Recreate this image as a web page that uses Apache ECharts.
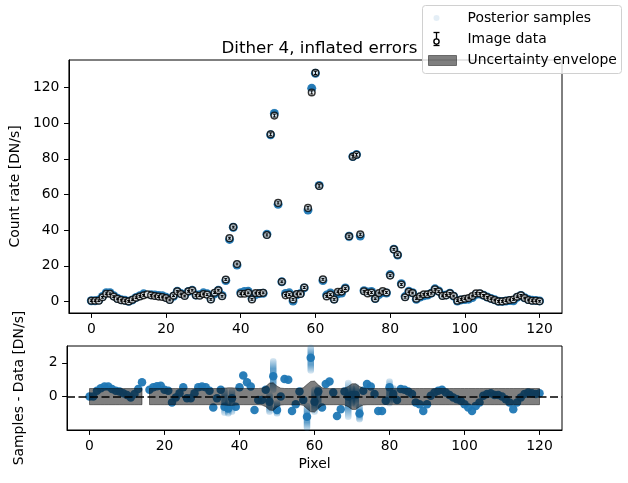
<!DOCTYPE html>
<html>
<head>
<meta charset="utf-8">
<script src="https://cdn.jsdelivr.net/npm/echarts@6/dist/echarts.min.js"></script>
<style>
html, body { margin: 0; padding: 0; background: #fff; }
#chart { width: 628px; height: 483px; }
</style>
</head>
<body>
<div id="chart"></div>
<script>
// count rate per pixel (pixel index = array index)
var counts = [
  0.4, 0.4, 0.4, 2.3, 4.3, 4.3, 2.7, 1.4, 0.7, 0.4,
  0.0, 0.9, 2.1, 2.8, 3.4, 4.0, 3.4, 3.0, 2.7, 2.5,
  1.9, 0.8, 3.2, 5.7, 4.2, 3.0, 5.7, 6.3, 3.4, 3.2,
  4.2, 3.8, 1.1, 4.9, 6.3, 2.9, 12.3, 35.5, 41.7, 21.0,
  4.3, 4.3, 4.8, 1.1, 4.7, 4.6, 4.8, 37.3, 93.8, 104.3,
  55.3, 11.0, 3.4, 3.8, 1.1, 4.2, 4.2, 7.8, 52.5, 117.3,
  128.3, 64.8, 12.4, 2.8, 3.8, 1.1, 5.4, 5.5, 7.2, 36.6,
  81.2, 82.3, 37.7, 5.7, 4.5, 5.0, 1.5, 4.7, 5.8, 5.0,
  14.5, 29.2, 26.2, 9.5, 2.3, 5.4, 4.7, 1.5, 2.9, 4.0,
  4.0, 4.6, 6.8, 5.5, 3.1, 3.4, 4.5, 3.0, 0.4, 1.1,
  1.5, 1.9, 3.0, 4.5, 4.5, 3.4, 2.3, 1.5, 0.8, 0.0,
  0.0, 0.4, 0.8, 1.1, 2.6, 3.4, 1.9, 0.8, 0.4, 0.4,
  0.1
];
// posterior samples minus data, typical value per pixel
var resid = [
  0.0, 0.0, 0.35, 0.5, 0.6, 0.6, 0.45, 0.35, 0.3, 0.2,
  0.1, -0.05, 0.15, 0.45, 0.85, null, 0.4, 0.55, 0.62, 0.65,
  0.4, 0.35, -0.35, -0.05, 0.2, 0.55, -0.1, -0.1, 0.2, 0.55,
  0.6, 0.55, 0.35, -0.65, -0.1, 0.4, -0.6, -0.7, -0.1, -0.6,
  0.55, 1.25, 0.85, 0.6, -0.8, -0.2, -0.2, 0.4, -0.3, 1.2,
  -0.8, 0.0, 1.05, 1.0, -0.85, -0.45, 0.3, -0.2, -1.2, 2.3,
  -0.3, 0.3, -0.65, 0.75, 0.9, 0.25, -1.15, -0.75, 0.3, 0.0,
  0.1, 0.1, -1.0, 0.35, 0.75, 0.6, 0.15, -0.85, -0.85, -0.25,
  0.55, 0.15, -0.2, 0.45, 0.4, 0.3, 0.15, -0.35, -0.45, -0.85,
  -0.45, 0.05, 0.25, 0.35, 0.4, 0.25, 0.1, -0.05, -0.15, -0.25,
  -0.45, -0.65, -0.85, -0.55, -0.35, 0.05, 0.15, 0.2, 0.1, 0.1,
  0.0, -0.15, -0.35, -0.75, -0.35, -0.05, 0.15, 0.25, 0.2, 0.15,
  0.2
];
// pixels where the samples spread out: [pixel, low, high] (samples - data)
var streaks = [
  [36, -0.95, 0.35], [37, -1.0, -0.3], [38, -0.9, 0.3],
  [48, -0.9, 0.1], [49, 0.4, 2.1], [50, -1.0, -0.4],
  [58, -1.85, -0.55], [59, 1.55, 2.9], [60, -0.9, 0.4], [61, -0.5, 0.5],
  [69, -1.2, 0.8], [70, -0.4, 0.5], [71, -0.5, 0.6], [72, -1.35, -0.6],
  [80, -0.4, 0.9], [81, -0.2, 0.5]
];
// half width of the uncertainty envelope (also the error bar size)
var envHalf = [
  0.48, 0.48, 0.48, 0.48, 0.48, 0.48, 0.48, 0.48, 0.48, 0.48,
  0.48, 0.48, 0.48, 0.48, 0.48, null, 0.48, 0.48, 0.48, 0.48,
  0.48, 0.48, 0.48, 0.48, 0.48, 0.48, 0.48, 0.48, 0.48, 0.48,
  0.48, 0.48, 0.48, 0.48, 0.48, 0.48, 0.5, 0.52, 0.52, 0.5,
  0.48, 0.48, 0.48, 0.48, 0.48, 0.48, 0.5, 0.6, 0.8, 0.82,
  0.62, 0.5, 0.48, 0.48, 0.48, 0.48, 0.48, 0.52, 0.72, 0.9,
  0.92, 0.7, 0.52, 0.48, 0.48, 0.48, 0.48, 0.48, 0.5, 0.6,
  0.76, 0.76, 0.6, 0.5, 0.48, 0.48, 0.48, 0.48, 0.48, 0.48,
  0.48, 0.48, 0.48, 0.48, 0.48, 0.48, 0.48, 0.48, 0.48, 0.48,
  0.48, 0.48, 0.48, 0.48, 0.48, 0.48, 0.48, 0.48, 0.48, 0.48,
  0.48, 0.48, 0.48, 0.48, 0.48, 0.48, 0.48, 0.48, 0.48, 0.48,
  0.48, 0.48, 0.48, 0.48, 0.48, 0.48, 0.48, 0.48, 0.48, 0.48,
  0.48
];
var xTicks = [0, 20, 40, 60, 80, 100, 120];
var yTicksTop = [0, 20, 40, 60, 80, 100, 120];
var yTicksBottom = [0, 2];

var FONT = "DejaVu Sans";
var BLUE = "#1f77b4";

var dataPts = [], postPts = [], errPts = [], residPts = [];
for (var i = 0; i < counts.length; i++) {
  dataPts.push([i, counts[i]]);
  if (envHalf[i] != null) errPts.push([i, counts[i], envHalf[i]]);
  if (resid[i] != null) {
    postPts.push([i, counts[i] + resid[i]]);
    residPts.push([i, resid[i]]);
  }
}
var streakTop = streaks.map(function (s) { return [s[0], counts[s[0]] + s[1], counts[s[0]] + s[2]]; });
var streakBot = streaks.map(function (s) { return [s[0], s[1], s[2]]; });

// contiguous runs of the envelope
var bandRuns = [], start = null;
for (var j = 0; j <= envHalf.length; j++) {
  if (j < envHalf.length && envHalf[j] != null) { if (start === null) start = j; }
  else if (start !== null) { bandRuns.push([start, j - 1, 0]); start = null; }
}

function renderStreak(params, api) {
  var p1 = api.coord([api.value(0), api.value(2)]);
  var p2 = api.coord([api.value(0), api.value(1)]);
  var w = 6.5;
  return {
    type: "rect",
    shape: { x: p1[0] - w / 2, y: p1[1] - w / 2, width: w, height: p2[1] - p1[1] + w, r: w / 2 },
    style: {
      fill: new echarts.graphic.LinearGradient(0, 0, 0, 1, [
        { offset: 0, color: "rgba(31,119,180,0.15)" },
        { offset: 0.3, color: "rgba(31,119,180,0.7)" },
        { offset: 0.7, color: "rgba(31,119,180,0.7)" },
        { offset: 1, color: "rgba(31,119,180,0.15)" }
      ])
    }
  };
}
function renderErr(params, api) {
  var x = api.value(0), y = api.value(1), e = api.value(2);
  var a = api.coord([x, y + e]), b = api.coord([x, y - e]);
  var st = { stroke: "#000", lineWidth: 1 };
  return {
    type: "group",
    children: [
      { type: "line", shape: { x1: a[0], y1: a[1], x2: b[0], y2: b[1] }, style: st },
      { type: "line", shape: { x1: a[0] - 1.5, y1: a[1], x2: a[0] + 1.5, y2: a[1] }, style: st },
      { type: "line", shape: { x1: b[0] - 1.5, y1: b[1], x2: b[0] + 1.5, y2: b[1] }, style: st }
    ]
  };
}
function renderBand(params, api) {
  var run = bandRuns[params.dataIndex];
  var top = [], bot = [];
  for (var k = run[0]; k <= run[1]; k++) {
    top.push(api.coord([k, envHalf[k]]));
    bot.unshift(api.coord([k, -envHalf[k]]));
  }
  return {
    type: "polygon",
    shape: { points: top.concat(bot) },
    style: { fill: "rgba(0,0,0,0.5)", stroke: "rgba(0,0,0,0.45)", lineWidth: 1 }
  };
}

function xAxisOf(grid) {
  return {
    gridIndex: grid, type: "value", min: -6, max: 126,
    axisLine: { show: true, onZero: false, lineStyle: { color: "#000", width: 1 } },
    splitLine: { show: false },
    axisTick: { show: true, length: 4.9, lineStyle: { color: "#000", width: 1 }, customValues: xTicks },
    axisLabel: { customValues: xTicks, margin: 9.5, color: "#000", fontFamily: FONT, fontSize: 13.9 }
  };
}
function yAxisOf(grid, min, max, ticks, name) {
  return {
    gridIndex: grid, type: "value", min: min, max: max,
    name: name, nameLocation: "middle", nameGap: 41,
    nameTextStyle: { color: "#000", fontFamily: FONT, fontSize: 13.9 },
    axisLine: { show: true, onZero: false, lineStyle: { color: "#000", width: 1 } },
    splitLine: { show: false },
    axisTick: { show: true, length: 4.9, lineStyle: { color: "#000", width: 1 }, customValues: ticks },
    axisLabel: { customValues: ticks, margin: 9.5, color: "#000", fontFamily: FONT, fontSize: 13.9 }
  };
}

var chart = echarts.init(document.getElementById("chart"));
chart.setOption({
  animation: false,
  backgroundColor: "#fff",
  title: {
    text: "Dither 4, inflated errors",
    left: 314.5, top: 35, textAlign: "center",
    textStyle: { color: "#000", fontFamily: FONT, fontSize: 16.7, fontWeight: "normal" }
  },
  grid: [
    { left: 67, top: 60, width: 495, height: 253, show: true, borderColor: "#000", borderWidth: 1, backgroundColor: "transparent" },
    { left: 67, top: 346, width: 495, height: 84, show: true, borderColor: "#000", borderWidth: 1, backgroundColor: "transparent" }
  ],
  xAxis: [
    xAxisOf(0),
    Object.assign(xAxisOf(1), {
      name: "Pixel", nameLocation: "middle", nameGap: 27,
      nameTextStyle: { color: "#000", fontFamily: FONT, fontSize: 13.9 }
    })
  ],
  yAxis: [
    yAxisOf(0, -6.5, 135.5, yTicksTop, "Count rate [DN/s]"),
    yAxisOf(1, -1.98, 3.0, yTicksBottom, "Samples - Data [DN/s]")
  ],
  series: [
    { type: "custom", xAxisIndex: 0, yAxisIndex: 0, z: 1, renderItem: renderStreak, data: streakTop, encode: { x: 0, y: [1, 2] } },
    { type: "scatter", xAxisIndex: 0, yAxisIndex: 0, z: 2, symbol: "circle", symbolSize: 9, data: postPts,
      itemStyle: { color: BLUE, opacity: 0.95 } },
    { type: "scatter", xAxisIndex: 0, yAxisIndex: 0, z: 3, symbol: "circle", symbolSize: 6.6, data: dataPts,
      itemStyle: { color: "#fff", borderColor: "#000", borderWidth: 1.5 } },
    { type: "custom", xAxisIndex: 0, yAxisIndex: 0, z: 4, renderItem: renderErr, data: errPts, encode: { x: 0, y: 1 } },

    { type: "custom", xAxisIndex: 1, yAxisIndex: 1, z: 1, renderItem: renderStreak, data: streakBot, encode: { x: 0, y: [1, 2] } },
    { type: "scatter", xAxisIndex: 1, yAxisIndex: 1, z: 2, symbol: "circle", symbolSize: 8.5, data: residPts,
      itemStyle: { color: BLUE, opacity: 0.95 } },
    { type: "custom", xAxisIndex: 1, yAxisIndex: 1, z: 3, renderItem: renderBand, data: bandRuns, encode: { x: [0, 1], y: 2 },
      markLine: {
        silent: true, symbol: "none", label: { show: false }, animation: false,
        lineStyle: { color: "#000", type: [8, 3.5], width: 1.6 },
        data: [{ yAxis: 0 }]
      }
    }
  ],
  graphic: [{
    type: "group", left: 422, top: 5, z: 100,
    children: [
      { type: "rect", shape: { x: 0, y: 0, width: 199, height: 68, r: 3 },
        style: { fill: "rgba(255,255,255,0.8)", stroke: "#d0d0d0", lineWidth: 1 } },
      { type: "circle", shape: { cx: 14, cy: 12.5, r: 3 }, style: { fill: "rgba(31,119,180,0.12)" } },
      { type: "text", x: 45, y: 12.5, style: { text: "Posterior samples", fill: "#000", font: "13.9px " + FONT, verticalAlign: "middle" } },
      { type: "line", shape: { x1: 14, y1: 27, x2: 14, y2: 40 }, style: { stroke: "#000", lineWidth: 1.3 } },
      { type: "line", shape: { x1: 11, y1: 27, x2: 17, y2: 27 }, style: { stroke: "#000", lineWidth: 1.3 } },
      { type: "line", shape: { x1: 11, y1: 40, x2: 17, y2: 40 }, style: { stroke: "#000", lineWidth: 1.3 } },
      { type: "circle", shape: { cx: 14, cy: 36, r: 2.6 }, style: { fill: "#fff", stroke: "#000", lineWidth: 1.4 } },
      { type: "text", x: 45, y: 33.5, style: { text: "Image data", fill: "#000", font: "13.9px " + FONT, verticalAlign: "middle" } },
      { type: "rect", shape: { x: 6, y: 50, width: 28, height: 10 },
        style: { fill: "rgba(0,0,0,0.5)", stroke: "rgba(0,0,0,0.45)", lineWidth: 1 } },
      { type: "text", x: 45, y: 55, style: { text: "Uncertainty envelope", fill: "#000", font: "13.9px " + FONT, verticalAlign: "middle" } }
    ]
  }]
});
</script>
</body>
</html>
